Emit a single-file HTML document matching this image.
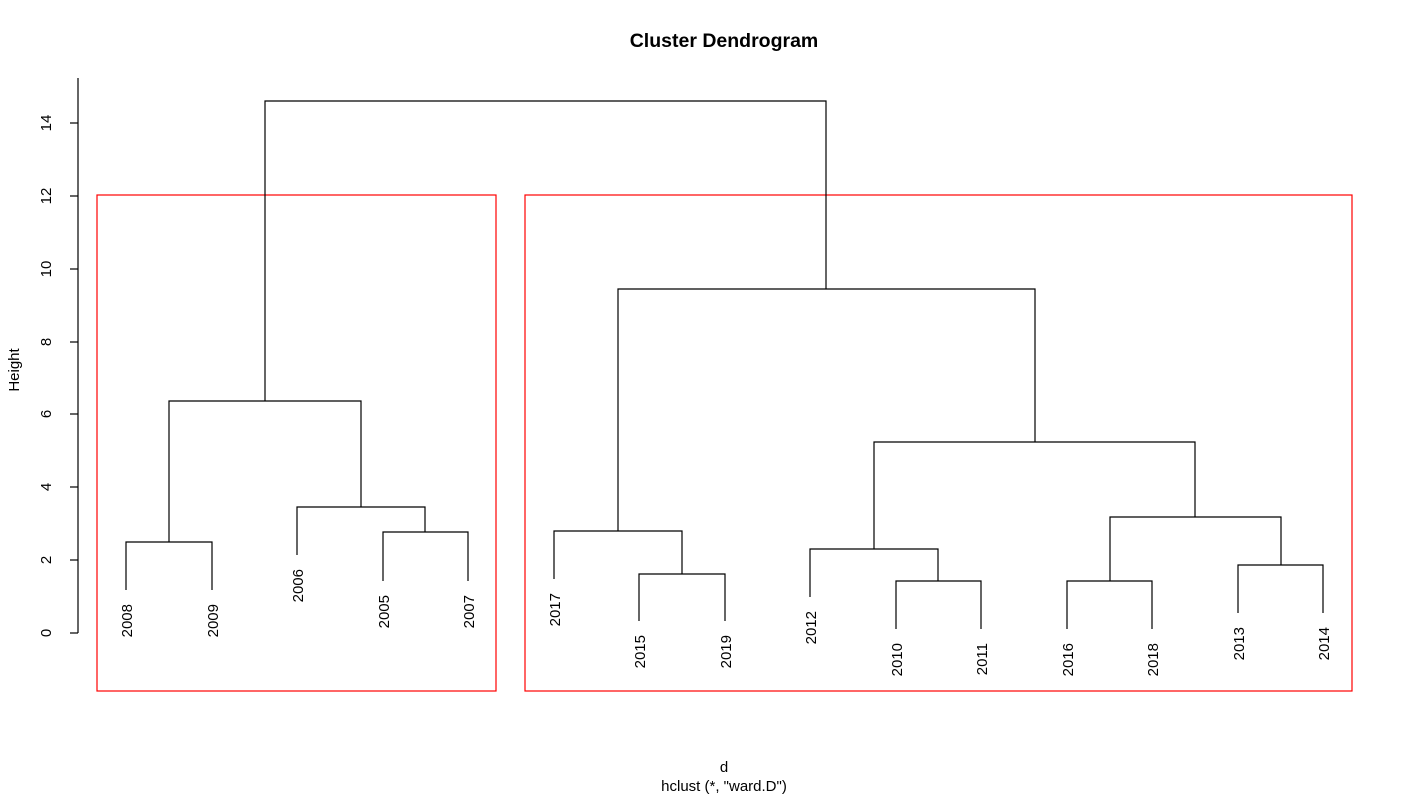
<!DOCTYPE html>
<html><head><meta charset="utf-8"><style>
html,body{margin:0;padding:0;background:#fff;}
svg{display:block;font-family:"Liberation Sans",sans-serif;}
</style></head><body>
<svg width="1412" height="796" viewBox="0 0 1412 796" xmlns="http://www.w3.org/2000/svg">
<text x="724" y="47" font-size="19.5" font-weight="bold" text-anchor="middle">Cluster Dendrogram</text>
<text x="724" y="772" font-size="15" text-anchor="middle">d</text>
<text x="724" y="791" font-size="15" text-anchor="middle">hclust (*, "ward.D")</text>
<text transform="translate(19,370) rotate(-90)" font-size="15" text-anchor="middle">Height</text>
<g stroke="#000" stroke-width="1.2" fill="none">
<line x1="78" y1="78" x2="78" y2="633"/>
<line x1="70" y1="633" x2="78" y2="633"/>
<line x1="70" y1="560" x2="78" y2="560"/>
<line x1="70" y1="487" x2="78" y2="487"/>
<line x1="70" y1="414" x2="78" y2="414"/>
<line x1="70" y1="342" x2="78" y2="342"/>
<line x1="70" y1="269" x2="78" y2="269"/>
<line x1="70" y1="196" x2="78" y2="196"/>
<line x1="70" y1="123" x2="78" y2="123"/>
</g>
<g font-size="15" text-anchor="middle">
<text transform="translate(51,633) rotate(-90)">0</text>
<text transform="translate(51,560) rotate(-90)">2</text>
<text transform="translate(51,487) rotate(-90)">4</text>
<text transform="translate(51,414) rotate(-90)">6</text>
<text transform="translate(51,342) rotate(-90)">8</text>
<text transform="translate(51,269) rotate(-90)">10</text>
<text transform="translate(51,196) rotate(-90)">12</text>
<text transform="translate(51,123) rotate(-90)">14</text>
</g>
<g stroke="#f00" stroke-width="1.2" fill="none">
<rect x="97" y="195" width="399" height="496"/>
<rect x="525" y="195" width="827" height="496"/>
</g>
<g stroke="#000" stroke-width="1.2" fill="none">
<polyline points="126,590 126,542 212,542 212,590"/>
<polyline points="383,581 383,532 468,532 468,581"/>
<polyline points="297,555 297,507 425,507 425,532"/>
<polyline points="169,542 169,401 361,401 361,507"/>
<polyline points="639,621 639,574 725,574 725,621"/>
<polyline points="554,579 554,531 682,531 682,574"/>
<polyline points="896,629 896,581 981,581 981,629"/>
<polyline points="810,597 810,549 938,549 938,581"/>
<polyline points="1067,629 1067,581 1152,581 1152,629"/>
<polyline points="1238,613 1238,565 1323,565 1323,613"/>
<polyline points="1110,581 1110,517 1281,517 1281,565"/>
<polyline points="874,549 874,442 1195,442 1195,517"/>
<polyline points="618,531 618,289 1035,289 1035,442"/>
<polyline points="265,401 265,101 826,101 826,289"/>
</g>
<g font-size="15" text-anchor="end">
<text transform="translate(132,604) rotate(-90)">2008</text>
<text transform="translate(218,604) rotate(-90)">2009</text>
<text transform="translate(303,569) rotate(-90)">2006</text>
<text transform="translate(389,595) rotate(-90)">2005</text>
<text transform="translate(474,595) rotate(-90)">2007</text>
<text transform="translate(560,593) rotate(-90)">2017</text>
<text transform="translate(645,635) rotate(-90)">2015</text>
<text transform="translate(731,635) rotate(-90)">2019</text>
<text transform="translate(816,611) rotate(-90)">2012</text>
<text transform="translate(902,643) rotate(-90)">2010</text>
<text transform="translate(987,643) rotate(-90)">2011</text>
<text transform="translate(1073,643) rotate(-90)">2016</text>
<text transform="translate(1158,643) rotate(-90)">2018</text>
<text transform="translate(1244,627) rotate(-90)">2013</text>
<text transform="translate(1329,627) rotate(-90)">2014</text>
</g>
</svg>
</body></html>
